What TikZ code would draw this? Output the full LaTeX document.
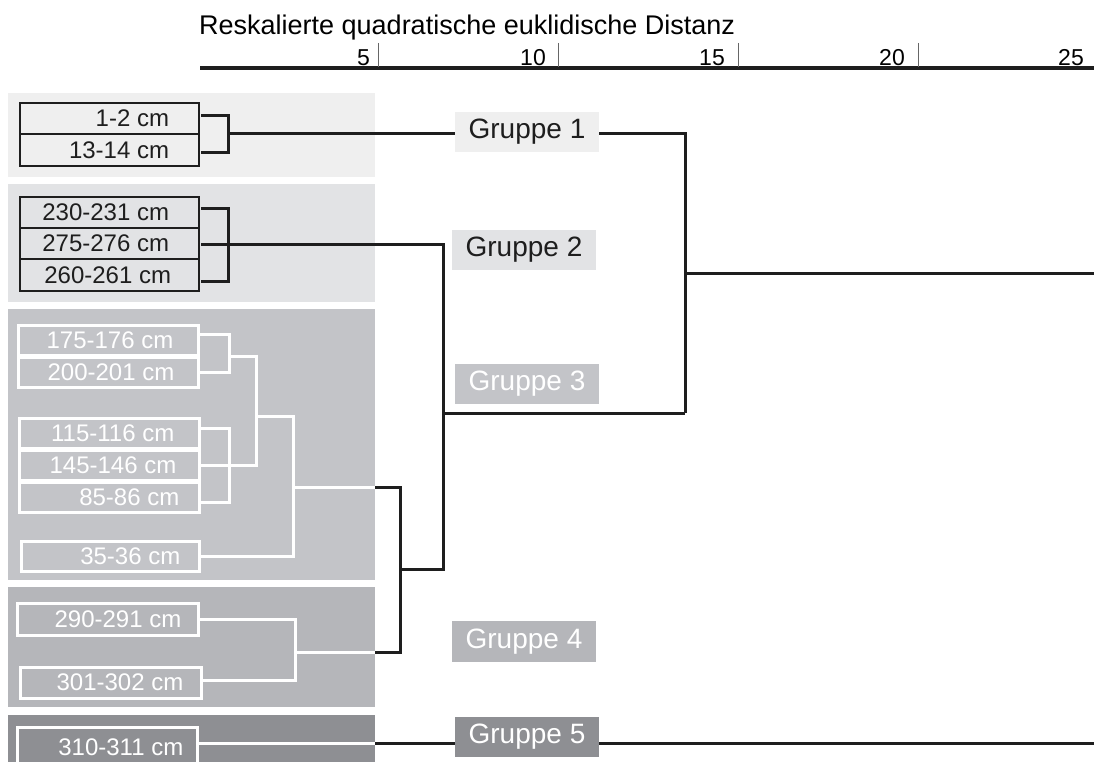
\documentclass[tikz,border=0pt]{standalone}
\usepackage{fontspec}
\setmainfont{Liberation Sans}
\definecolor{bandA}{HTML}{EFEFEF}
\definecolor{bandB}{HTML}{E2E3E5}
\definecolor{bandC}{HTML}{C3C4C8}
\definecolor{bandD}{HTML}{B5B6BA}
\definecolor{bandE}{HTML}{8E8F93}
\definecolor{ink}{HTML}{1E1E1E}
\begin{document}
\begin{tikzpicture}[x=1pt,y=-1pt,
  band/.style={rectangle,draw=none,inner sep=0pt,minimum width=367pt},
  darkleaf/.style={rectangle,draw=ink,line width=2.5pt,inner sep=0pt,minimum width=179pt},
  whiteleaf/.style={rectangle,draw=white,line width=3pt,inner sep=0pt},
  leaftxt/.style={anchor=east,inner sep=0pt,font=\fontsize{24}{26}\selectfont},
  grp/.style={rectangle,inner sep=0pt,minimum width=144pt,minimum height=40pt,font=\fontsize{28}{30}\selectfont},
  blk/.style={draw=ink,line width=3pt},
  wht/.style={draw=white,line width=3pt},
  tick/.style={draw=black!60,line width=1pt},
  num/.style={anchor=base east,inner sep=0pt,font=\fontsize{23}{25}\selectfont}]
\useasboundingbox (0,0) rectangle (1094,762);
% title and axis
\node[anchor=base west,inner sep=0pt,font=\fontsize{27}{29}\selectfont] (title) at (199,35) {Reskalierte quadratische euklidische Distanz};
\coordinate (ax0) at (200,68);
\coordinate (ax1) at (1094,68);
\draw[ink,line width=4pt] (ax0) -- (ax1);
\foreach \x in {378,558,738,918}{\draw[tick] (\x,43) -- (\x,67);}
\node[num] (n5) at (370,66) {5};
\node[num] (n10) at (546,66) {10};
\node[num] (n15) at (725,66) {15};
\node[num] (n20) at (905,66) {20};
\node[num] (n25) at (1084,66) {25};
% bands
\node[band,fill=bandA,minimum height=84pt] (band1) at (191.5,135) {};
\node[band,fill=bandB,minimum height=118pt] (band2) at (191.5,243) {};
\node[band,fill=bandC,minimum height=271pt] (band3) at (191.5,444.5) {};
\node[band,fill=bandD,minimum height=120pt] (band4) at (191.5,647) {};
\node[band,fill=bandE,minimum height=60pt] (band5) at (191.5,745) {};
% group 1 leaves
\node[darkleaf,minimum height=31pt] (a1) at (109.5,118.5) {};
\node[darkleaf,minimum height=32pt] (a2) at (109.5,150) {};
\node[leaftxt,text=ink] at ([xshift=-31pt]a1.east) {1-2 cm};
\node[leaftxt,text=ink] at ([xshift=-31pt]a2.east) {13-14 cm};
% group 2 leaves
\node[darkleaf,minimum height=31pt] (b1) at (109.5,212.5) {};
\node[darkleaf,minimum height=31pt] (b2) at (109.5,243.5) {};
\node[darkleaf,minimum height=32pt] (b3) at (109.5,275) {};
\node[leaftxt,text=ink] at ([xshift=-31pt]b1.east) {230-231 cm};
\node[leaftxt,text=ink] at ([xshift=-31pt]b2.east) {275-276 cm};
\node[leaftxt,text=ink] at ([xshift=-29pt]b3.east) {260-261 cm};
% group 3 leaves
\node[whiteleaf,minimum width=180pt,minimum height=30pt] (c1) at (108,340) {};
\node[whiteleaf,minimum width=180pt,minimum height=30pt] (c2) at (108,372) {};
\node[whiteleaf,minimum width=180pt,minimum height=30pt] (c3) at (109,433) {};
\node[whiteleaf,minimum width=180pt,minimum height=30pt] (c4) at (109,465) {};
\node[whiteleaf,minimum width=180pt,minimum height=30pt] (c5) at (109,497) {};
\node[whiteleaf,minimum width=178pt,minimum height=30pt] (c6) at (110,556) {};
\node[leaftxt,text=white] at ([xshift=-26pt]c1.east) {175-176 cm};
\node[leaftxt,text=white] at ([xshift=-25pt]c2.east) {200-201 cm};
\node[leaftxt,text=white] at ([xshift=-26pt]c3.east) {115-116 cm};
\node[leaftxt,text=white] at ([xshift=-24pt]c4.east) {145-146 cm};
\node[leaftxt,text=white] at ([xshift=-21pt]c5.east) {85-86 cm};
\node[leaftxt,text=white] at ([xshift=-20pt]c6.east) {35-36 cm};
% group 4 leaves
\node[whiteleaf,minimum width=181pt,minimum height=32pt] (d1) at (107.5,619) {};
\node[whiteleaf,minimum width=181pt,minimum height=31pt] (d2) at (110.5,682.5) {};
\node[leaftxt,text=white] at ([xshift=-18pt]d1.east) {290-291 cm};
\node[leaftxt,text=white] at ([xshift=-19pt]d2.east) {301-302 cm};
% group 5 leaf
\node[whiteleaf,minimum width=180pt,minimum height=38pt] (e1) at (107,746) {};
\node[leaftxt,text=white] at ([xshift=-15pt,yshift=-1pt]e1.east) {310-311 cm};
% group labels
\node[grp,fill=bandA,text=ink] (g1) at (527,132) {Gruppe 1};
\node[grp,fill=bandB,text=ink] (g2) at (524,250) {Gruppe 2};
\node[grp,fill=bandC,text=white] (g3) at (527,384) {Gruppe 3};
\node[grp,fill=bandD,text=white,minimum height=41pt] (g4) at (524,641.5) {Gruppe 4};
\node[grp,fill=bandE,text=white] (g5) at (527,737) {Gruppe 5};
% joints
\coordinate (j1) at (228,134);
\coordinate (j2) at (228,244);
\coordinate (j3) at (375,487);
\coordinate (j4) at (375,652);
\coordinate (j34) at (400,569);
\coordinate (j234) at (443,413);
\coordinate (jall) at (685,273);
\coordinate (rend) at (1094,273);
% white brackets, group 3
\draw[wht] (c1.east |- 0,334) -- (229,334) -- (229,372) -- (c2.east);
\draw[wht] (229,356) -- (256,356);
\draw[wht] (c3.east |- 0,428) -- (229,428) -- (229,502) -- (c5.east |- 0,502);
\draw[wht] (c4.east |- 0,465) -- (256,465);
\draw[wht] (256,354.5) -- (256,466.5);
\draw[wht] (256,416) -- (293,416) -- (293,556) -- (c6.east);
\draw[wht] (293,487) -- (j3);
% white brackets, group 4 and 5
\draw[wht] (d1.east) -- (295,619) -- (295,680) -- (d2.east |- 0,680);
\draw[wht] (295,652) -- (j4);
\draw[wht] (e1.east |- 0,743) -- (375,743);
% black brackets
\draw[blk] (201,116) -- (228,116) -- (228,153) -- (201,153);
\draw[blk] (201,208) -- (228,208) -- (228,281) -- (201,281);
\draw[blk] (201,244) -- (j2);
\draw[blk] (j1) -- (g1.west |- j1);
\draw[blk] (g1.east |- j1) -- (685,134) -- (685,413);
\draw[blk] (jall) -- (rend);
\draw[blk] (j2) -- (443,244) -- (443,569) -- (j34);
\draw[blk] (j234) -- (685,413);
\draw[blk] (j3) -- (400,487) -- (400,652) -- (j4);
\draw[blk] (375,743) -- (g5.west |- 0,743);
\draw[blk] (g5.east |- 0,743) -- (1094,743);
\end{tikzpicture}
\end{document}
